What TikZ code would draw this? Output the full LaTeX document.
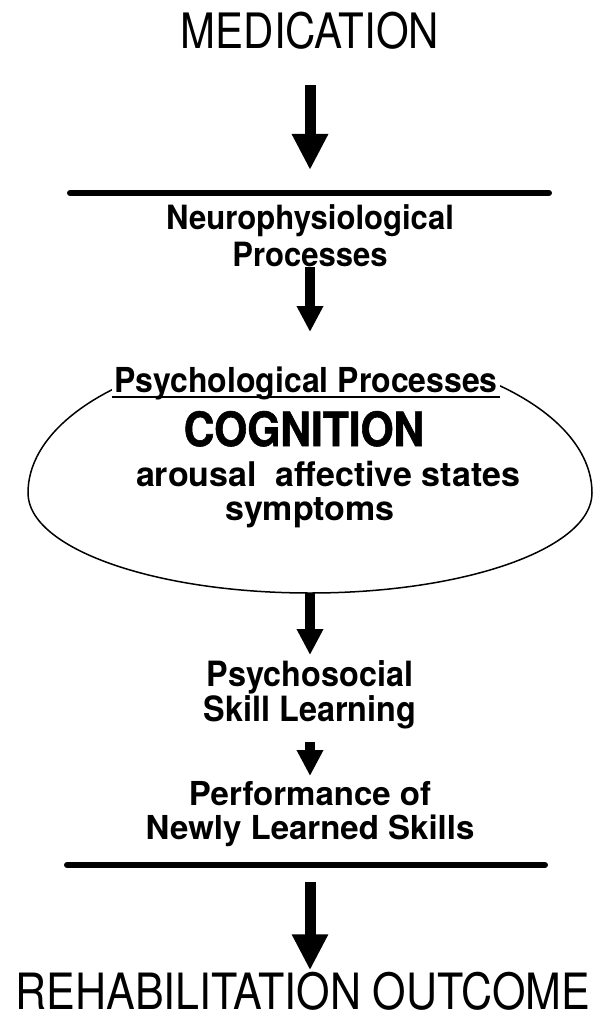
\documentclass[tikz,border=0pt]{standalone}
\usepackage{fontspec}
\setmainfont{TeX Gyre Heros}
\newfontfamily\capsfont[FakeStretch=0.86]{TeX Gyre Heros}
\newfontfamily\narrowfont[FakeStretch=0.93]{TeX Gyre Heros}
\newfontfamily\heavyfont[FakeStretch=0.9,FakeBold=1.2]{TeX Gyre Heros}
\usetikzlibrary{arrows.meta,positioning,shapes.geometric}
\tikzset{
  >=Triangle,
  title/.style={inner sep=0pt},
  stage/.style={align=center, inner sep=0pt},
  rulebar/.style={line width=3pt, line cap=round},
  bigarrow/.style={line width=5.5pt, -{Triangle[width=17pt,length=18pt]}},
  smallarrow/.style={line width=5pt, -{Triangle[width=12.5pt,length=13pt]}},
  bubble/.style={draw, line width=0.75pt, fill=white}
}

\begin{document}
\begin{tikzpicture}[x=0.5pt, y=-0.5pt]
  % --- frame: 600 x 1016 px, 1px = 0.5pt, y runs downwards ---
  \useasboundingbox (0,0) rectangle (600,1016);

  % --- Medication and first rule ---
  \node[title, font=\capsfont\fontsize{24.4}{28}\selectfont, anchor=base] (med) at (310,49) {MEDICATION};
  \coordinate (rule1) at (310,193);
  \draw[rulebar] (70,193) -- (549,193);

  \node[stage, font=\narrowfont\bfseries\fontsize{16.7}{18.5}\selectfont, anchor=north] (neuro) at (310,204) {Neurophysiological\\Processes};

  % --- Psychological processes (oval, taller above than below) ---
  \draw[bubble] (28,493) arc[start angle=180, end angle=360, x radius=282, y radius=145]
                arc[start angle=0, end angle=180, x radius=282, y radius=100] -- cycle;
  \coordinate (psychN) at (310,348);
  \coordinate (psychS) at (310,593);
  \node[stage, fill=white, inner sep=1pt, text height=26pt, font=\narrowfont\bfseries\fontsize{17.2}{20}\selectfont, anchor=base] (ptitle) at (306,392) {Psychological Processes};
  \draw[line width=1.2pt] ([yshift=-2.5pt]ptitle.base west) -- ([yshift=-2.5pt]ptitle.base east);
  \node[stage, font=\heavyfont\bfseries\fontsize{23.6}{26}\selectfont, anchor=base] (cog) at (304,446) {COGNITION};
  \node[stage, font=\bfseries\fontsize{17}{20}\selectfont, anchor=base] (states) at (328,486) {arousal\ \ affective states};
  \node[stage, font=\bfseries\fontsize{17}{20}\selectfont, anchor=base] (symp) at (310,520) {symptoms};

  % --- Skills ---
  \node[stage, font=\narrowfont\bfseries\fontsize{17.4}{16}\selectfont, anchor=north] (social) at (310,660) {Psychosocial\\Skill Learning};
  \node[stage, font=\bfseries\fontsize{16.5}{17}\selectfont, anchor=north] (perf) at (310,781) {Performance of\\Newly Learned Skills};

  % --- second rule and outcome ---
  \coordinate (rule2) at (310,865);
  \draw[rulebar] (67,865) -- (545,865);
  \node[title, font=\capsfont\fontsize{25}{30}\selectfont, anchor=base] (rehab) at (303,1009) {REHABILITATION OUTCOME};

  % --- Arrows ---
  \draw[bigarrow, shorten <=18pt, shorten >=11.5pt] (med.base) -- (rule1);
  \draw[smallarrow, shorten >=8pt] (neuro.south) -- (psychN);
  \draw[smallarrow, shorten >=2.5pt] (psychS) -- (social.north);
  \draw[smallarrow, shorten <=6pt, shorten >=2.5pt] (social.south) -- (perf.north);
  \draw[bigarrow, shorten <=8.5pt, shorten >=0.5pt] (rule2) -- (rule2 |- rehab.north);
\end{tikzpicture}
\end{document}
